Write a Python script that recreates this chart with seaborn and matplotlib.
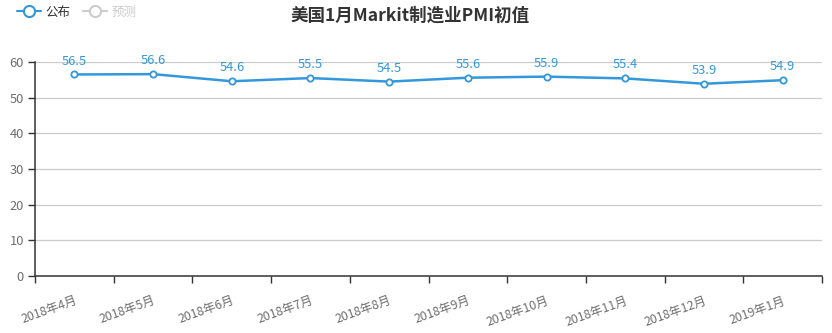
import matplotlib
matplotlib.use("Agg")
import matplotlib.pyplot as plt
from matplotlib.lines import Line2D
from matplotlib.ticker import FixedLocator
import seaborn as sns
import pandas as pd

categories = ["2018年4月", "2018年5月", "2018年6月", "2018年7月", "2018年8月",
              "2018年9月", "2018年10月", "2018年11月", "2018年12月", "2019年1月"]
published = [56.5, 56.6, 54.6, 55.5, 54.5, 55.6, 55.9, 55.4, 53.9, 54.9]
y_ticks = [0, 10, 20, 30, 40, 50, 60]

sns.set_theme(style="white")
plt.rcParams['font.family'] = ['Noto Sans CJK SC', 'DejaVu Sans']

BLUE = "#3398db"
df = pd.DataFrame({"idx": range(len(categories)), "val": published})

fig = plt.figure(figsize=(8.32, 3.33), dpi=100)
ax = fig.add_axes([35/832, 1-276/333, (822-35)/832, (276-62)/333])

sns.lineplot(data=df, x="idx", y="val", ax=ax, color=BLUE, linewidth=1.8,
             marker="o", markersize=4.5, markerfacecolor="white",
             markeredgecolor=BLUE, markeredgewidth=1.3)

for i, v in enumerate(published):
    ax.annotate(f"{v:.1f}", (i, v), xytext=(0, 5), textcoords="offset points",
                ha="center", va="bottom", color=BLUE, fontsize=9.3)

ax.set_xlim(-0.5, len(categories) - 0.5)
ax.set_ylim(0, 60)
ax.set_yticks(y_ticks)
ax.set_yticklabels([str(t) for t in y_ticks])
ax.set_xticks(range(len(categories)))
ax.set_xticklabels(categories, rotation=20, ha="right", va="top",
                   rotation_mode="anchor")
ax.xaxis.set_minor_locator(FixedLocator([i - 0.5 for i in range(len(categories) + 1)]))
ax.tick_params(axis="x", which="major", length=0, pad=13, labelsize=8.8, labelcolor="#6e6e6e")
ax.tick_params(axis="x", which="minor", length=5, width=1, color="#333333", direction="out", bottom=True)
ax.tick_params(axis="y", length=5, width=1, color="#333333", direction="out", left=True,
               labelsize=9.3, labelcolor="#6e6e6e", pad=3)
ax.set_xlabel("")
ax.set_ylabel("")

ax.grid(axis="y", color="#cccccc", linewidth=0.9)
ax.set_axisbelow(True)
for s in ["top", "right"]:
    ax.spines[s].set_visible(False)
for s in ["left", "bottom"]:
    ax.spines[s].set_color("#333333")
    ax.spines[s].set_linewidth(1.1)

fig.text(410/832, 1-16/333, "美国1月Markit制造业PMI初值", ha="center", va="center",
         fontsize=12.6, fontweight="bold", color="#333333")

h1 = Line2D([], [], color=BLUE, linewidth=1.5, marker="o", markersize=8,
            markerfacecolor="white", markeredgecolor=BLUE, markeredgewidth=1.5)
h2 = Line2D([], [], color="#cccccc", linewidth=1.5, marker="o", markersize=8,
            markerfacecolor="white", markeredgecolor="#cccccc", markeredgewidth=1.5)
leg = fig.legend([h1, h2], ["公布", "预测"], loc="center left",
                 bbox_to_anchor=(17/832, 1-12/333), ncol=2, frameon=False,
                 fontsize=9, handlelength=1.9, handletextpad=0.4,
                 columnspacing=1.0, borderaxespad=0, borderpad=0)
leg.get_texts()[0].set_color("#333333")
leg.get_texts()[1].set_color("#cccccc")

fig.savefig("out.png", dpi=100)
